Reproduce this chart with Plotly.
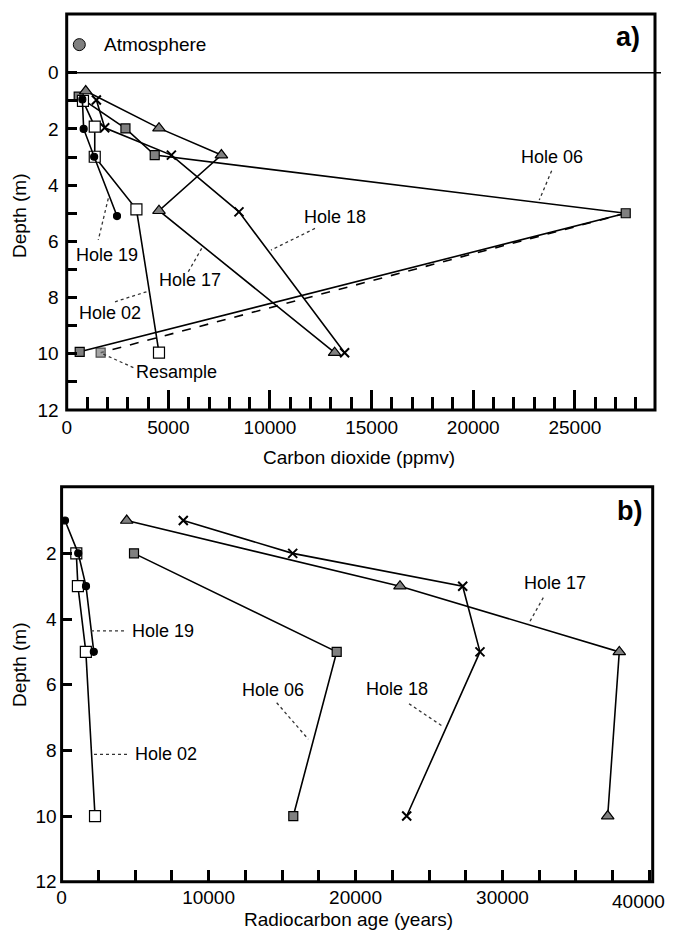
import plotly.graph_objects as go

# ---------------- Panel a) Carbon dioxide (ppmv) vs depth (m) ----------------
a_h06_co2 = [590, 2890, 4330, 27500, 640]
a_h06_depth = [0.85, 1.98, 2.93, 5.0, 9.93]
a_resample_co2 = [27500, 1670]
a_resample_depth = [5.0, 9.96]
a_h17_co2 = [935, 4540, 7610, 4540, 13180]
a_h17_depth = [0.65, 1.97, 2.93, 4.91, 9.96]
a_h18_co2 = [1460, 1870, 5150, 8475, 13670]
a_h18_depth = [0.97, 1.96, 2.93, 4.95, 9.96]
a_h02_co2 = [800, 1380, 1380, 3430, 4540]
a_h02_depth = [1.0, 1.92, 2.99, 4.86, 9.96]
a_h19_co2 = [770, 835, 1350, 2475]
a_h19_depth = [0.95, 2.0, 2.99, 5.1]
atm_co2 = [620]
atm_depth = [-1.0]

# ---------------- Panel b) Radiocarbon age (years) vs depth (m) ----------------
b_h19_age = [231, 1130, 1660, 2190]
b_h19_depth = [1, 2, 3, 5]
b_h02_age = [1000, 1110, 1650, 2273]
b_h02_depth = [2, 3, 5, 10]
b_h06_age = [4926, 18718, 15765]
b_h06_depth = [2, 5, 10]
b_h17_age = [4430, 23025, 37947, 37158]
b_h17_depth = [1, 3, 5, 10]
b_h18_age = [8281, 15724, 27291, 28468, 23481]
b_h18_depth = [1, 2, 3, 5, 10]

# tick positions / labels
a_ytickvals = list(range(0, 13))
a_yticktext = [str(v) if v % 2 == 0 else "" for v in a_ytickvals]
b_xtickvals = list(range(0, 40001, 2500))
b_xticktext = [str(v) if (v % 10000 == 0 and v < 40000) else "" for v in b_xtickvals]
b_yticks = [2, 4, 6, 8, 10, 12]

FONT = "Arial, Liberation Sans, Helvetica, sans-serif"
GREY = "#808080"
CLEAR = "rgba(0,0,0,0)"

fig = go.Figure()

def line_trace(x, y, xa, ya, symbol, size, fill, lw=1.6, dash="solid", mode="lines+markers", mlw=1.2):
    return go.Scatter(
        x=x, y=y, xaxis=xa, yaxis=ya, mode=mode,
        line=dict(color="black", width=lw, dash=dash),
        marker=dict(symbol=symbol, size=size, color=fill,
                    line=dict(color="black", width=mlw)),
        showlegend=False, hoverinfo="skip",
    )

# panel a traces
fig.add_trace(line_trace(a_resample_co2, a_resample_depth, "x", "y", "square", [0, 9], GREY, dash="dash"))
fig.add_trace(line_trace(a_h06_co2, a_h06_depth, "x", "y", "square", 9, GREY))
fig.add_trace(line_trace(a_h17_co2, a_h17_depth, "x", "y", "triangle-up", 11, GREY))
fig.add_trace(line_trace(a_h18_co2, a_h18_depth, "x", "y", "x-thin", 9, "black", mlw=2))
fig.add_trace(line_trace(a_h02_co2, a_h02_depth, "x", "y", "square", 11, "white"))
fig.add_trace(line_trace(a_h19_co2, a_h19_depth, "x", "y", "circle", 7, "black"))
fig.add_trace(line_trace(atm_co2, atm_depth, "x", "y", "circle", 12, GREY, mode="markers", mlw=1))

# panel b traces
fig.add_trace(line_trace(b_h06_age, b_h06_depth, "x2", "y2", "square", 9, GREY))
fig.add_trace(line_trace(b_h17_age, b_h17_depth, "x2", "y2", "triangle-up", 11, GREY))
fig.add_trace(line_trace(b_h18_age, b_h18_depth, "x2", "y2", "x-thin", 9, "black", mlw=2))
fig.add_trace(line_trace(b_h02_age, b_h02_depth, "x2", "y2", "square", 11, "white"))
fig.add_trace(line_trace(b_h19_age, b_h19_depth, "x2", "y2", "circle", 7, "black"))

common = dict(showgrid=True, gridcolor=CLEAR, zeroline=True, zerolinecolor=CLEAR,
              ticks="inside", tickwidth=2.5, tickcolor="black",
              tickfont=dict(family=FONT, size=19, color="black"))

fig.update_layout(
    width=675, height=933, margin=dict(l=0, r=0, t=0, b=0),
    paper_bgcolor="white", plot_bgcolor="white", template="none",
    xaxis=dict(common, domain=[66.7 / 675, 655 / 675], range=[0, 28940], anchor="y",
               tickmode="linear", tick0=0, dtick=5000, tickformat="d", ticklen=20,
               ticklabelstandoff=4,
               minor=dict(tickmode="linear", tick0=0, dtick=1000, ticklen=13, ticks="inside",
                          tickcolor="black", tickwidth=2.5)),
    yaxis=dict(common, domain=[1 - 410 / 933, 1 - 14 / 933], range=[12, -2.09], anchor="x",
               tickmode="array", tickvals=a_ytickvals, ticktext=a_yticktext, ticklen=10,
               ticklabelstandoff=7),
    xaxis2=dict(common, domain=[61.6 / 675, 652.7 / 675], range=[0, 40220], anchor="y2",
                tickmode="array", tickvals=b_xtickvals, ticktext=b_xticktext, ticklen=12,
                ticklabelstandoff=2),
    yaxis2=dict(common, domain=[1 - 881.7 / 933, 1 - 486.7 / 933], range=[12, -0.03], anchor="x2",
                tickmode="array", tickvals=b_yticks, ticklen=10, ticklabelstandoff=4),
)

# plot frames
fig.add_shape(type="rect", xref="x domain", yref="y domain", x0=0, x1=1, y0=0, y1=1,
              line=dict(color="black", width=3), layer="above")
fig.add_shape(type="rect", xref="x2 domain", yref="y2 domain", x0=0, x1=1, y0=0, y1=1,
              line=dict(color="black", width=3), layer="above")

# zero line (surface) in panel a
fig.add_shape(type="line", xref="paper", yref="y", x0=66.7 / 675, x1=661 / 675, y0=0, y1=0,
              line=dict(color="black", width=1.5))

def label(text, x, y, xref, yref, size=18, bold=False, xanchor="center", angle=0, yanchor="middle"):
    fig.add_annotation(text=f"<b>{text}</b>" if bold else text, x=x, y=y, xref=xref, yref=yref,
                       showarrow=False, xanchor=xanchor, yanchor=yanchor, textangle=angle,
                       font=dict(family=FONT, size=size, color="black"))

def leader(x0, y0, x1, y1, xref, yref):
    fig.add_shape(type="line", xref=xref, yref=yref, x0=x0, y0=y0, x1=x1, y1=y1,
                  line=dict(color="#333333", width=1.3, dash="dot"))

# panel a labels
label("Atmosphere", 1722, -1.01, "x", "y", size=19, xanchor="left")
label("a)", 27624, -1.28, "x", "y", size=27, bold=True)
label("Hole 06", 23856, 2.99, "x", "y")
leader(23856, 3.49, 23246, 4.53, "x", "y")
label("Hole 18", 13197, 5.12, "x", "y")
leader(12213, 5.54, 10049, 6.31, "x", "y")
label("Hole 19", 1968, 6.49, "x", "y")
leader(2046, 4.47, 1554, 5.95, "x", "y")
label("Hole 17", 6065, 7.38, "x", "y")
leader(5981, 7.08, 6640, 6.25, "x", "y")
label("Hole 02", 2130, 8.56, "x", "y")
leader(2376, 8.15, 3935, 7.79, "x", "y")
label("Resample", 5411, 10.64, "x", "y")
leader(1800, 10.01, 3360, 10.52, "x", "y")

# panel b labels
label("b)", 38675, 0.71, "x2", "y2", size=27, bold=True)
label("Hole 19", 6886, 4.36, "x2", "y2")
leader(2000, 4.36, 4382, 4.36, "x2", "y2")
label("Hole 02", 7104, 8.12, "x2", "y2")
leader(2205, 8.12, 4654, 8.12, "x2", "y2")
label("Hole 06", 14384, 6.17, "x2", "y2")
leader(14636, 6.55, 16786, 7.66, "x2", "y2")
label("Hole 18", 22801, 6.12, "x2", "y2")
leader(23637, 6.58, 25903, 7.26, "x2", "y2")
label("Hole 17", 33572, 2.89, "x2", "y2")
leader(32776, 3.35, 31755, 4.16, "x2", "y2")

# last tick label of panel b, kept inside the page like in the reference
label(str(b_xtickvals[-1]), 667 / 675, 1 - 901 / 933, "paper", "paper", size=19, xanchor="right")

# axis titles
label("Depth (m)", 19 / 675, 1 - 216 / 933, "paper", "paper", size=19, angle=-90)
label("Depth (m)", 19 / 675, 1 - 665 / 933, "paper", "paper", size=19, angle=-90)
label("Carbon dioxide (ppmv)", 359 / 675, 1 - 457 / 933, "paper", "paper", size=19)
label("Radiocarbon age (years)", 348 / 675, 1 / 933, "paper", "paper", size=19, yanchor="bottom")

fig.write_html("out.html")
